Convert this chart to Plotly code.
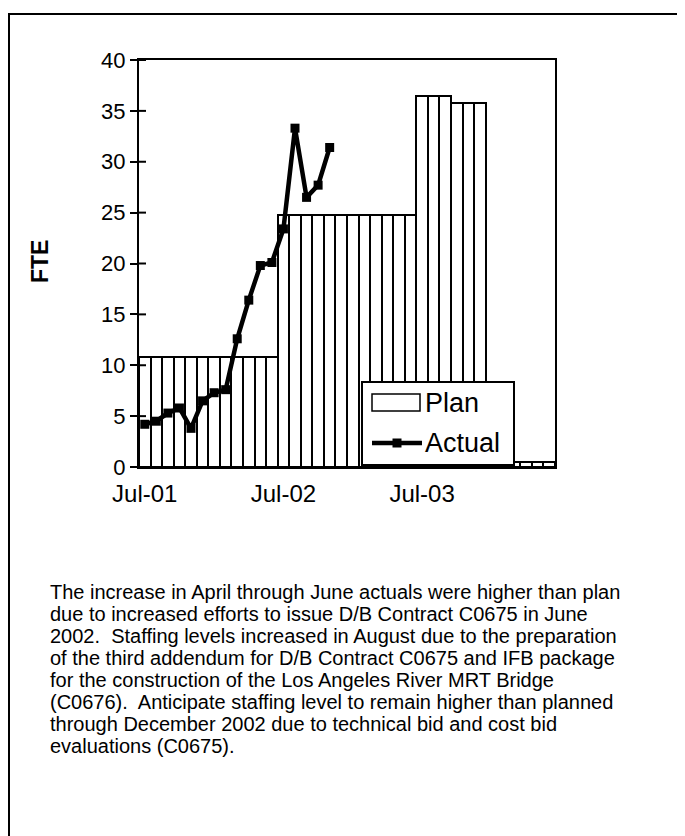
import plotly.graph_objects as go

months = ["Jul-01","Aug-01","Sep-01","Oct-01","Nov-01","Dec-01","Jan-02","Feb-02","Mar-02","Apr-02","May-02","Jun-02",
          "Jul-02","Aug-02","Sep-02","Oct-02","Nov-02","Dec-02","Jan-03","Feb-03","Mar-03","Apr-03","May-03","Jun-03",
          "Jul-03","Aug-03","Sep-03","Oct-03","Nov-03","Dec-03","Jan-04","Feb-04","Mar-04","Apr-04","May-04","Jun-04"]
plan = [10.8]*12 + [24.8]*12 + [36.5]*3 + [35.8]*3 + [0.5]*6
actual_months = months[:17]
actual = [4.2, 4.5, 5.3, 5.8, 3.8, 6.5, 7.3, 7.6, 12.6, 16.4, 19.8, 20.1, 23.4, 33.3, 26.5, 27.7, 31.4]
y_ticks = [0, 5, 10, 15, 20, 25, 30, 35, 40]
x_ticks = ["Jul-01", "Jul-02", "Jul-03"]
note_lines = [
    "The increase in April through June actuals were higher than plan",
    "due to increased efforts to issue D/B Contract C0675 in June",
    "2002.  Staffing levels increased in August due to the preparation",
    "of the third addendum for D/B Contract C0675 and IFB package",
    "for the construction of the Los Angeles River MRT Bridge",
    "(C0676).  Anticipate staffing level to remain higher than planned",
    "through December 2002 due to technical bid and cost bid",
    "evaluations (C0675).",
]

# page is drawn with an 8px body margin, so work in screen pixels
OFF = 8
W, H = 685 - OFF, 836 - OFF
SL, SR, ST, SB = 139, 555, 60, 467          # plot area in screen pixels
L, R, T, B = SL - OFF, SR - OFF, ST - OFF, SB - OFF
pw, ph = R - L, B - T
def px(sx): return (sx - OFF - L) / pw
def py(sy): return (B - (sy - OFF)) / ph

FONT = "Liberation Sans, Arial, sans-serif"

fig = go.Figure()
fig.add_trace(go.Bar(x=months, y=plan, name="Plan", showlegend=False,
                     marker=dict(color="white", line=dict(color="black", width=2))))
fig.add_trace(go.Scatter(x=actual_months, y=actual, name="Actual", mode="lines+markers", showlegend=False,
                         line=dict(color="black", width=4.5),
                         marker=dict(symbol="square", size=9, color="black")))

blk = dict(color="black", width=2)
shapes = []
# inner half of crossing y ticks
for v in y_ticks:
    shapes.append(dict(type="line", xref="paper", yref="y", x0=0, x1=7/pw, y0=v, y1=v, line=blk))
# outer frame of the page
shapes.append(dict(type="line", xref="paper", yref="paper", x0=px(8), x1=px(690), y0=py(14), y1=py(14), line=blk))
shapes.append(dict(type="line", xref="paper", yref="paper", x0=px(9), x1=px(9), y0=py(14), y1=py(840), line=blk))
# legend (drawn by hand to mimic the original box)
shapes.append(dict(type="rect", xref="paper", yref="paper", x0=px(362), x1=px(514), y0=py(465), y1=py(382),
                   fillcolor="white", line=blk, layer="above"))
shapes.append(dict(type="rect", xref="paper", yref="paper", x0=px(372), x1=px(420), y0=py(411), y1=py(394),
                   fillcolor="white", line=dict(color="black", width=1.5), layer="above"))
shapes.append(dict(type="line", xref="paper", yref="paper", x0=px(372), x1=px(422), y0=py(443), y1=py(443),
                   line=dict(color="black", width=4.5), layer="above"))
shapes.append(dict(type="rect", xref="paper", yref="paper", x0=px(392.5), x1=px(401.5), y0=py(447.5), y1=py(438.5),
                   fillcolor="black", line=dict(color="black", width=0), layer="above"))

annotations = [
    dict(text="<b>FTE</b>", xref="paper", yref="paper", x=px(40), y=py(262), xanchor="center", yanchor="middle",
         textangle=-90, showarrow=False, font=dict(size=23, family=FONT)),
    dict(text="Plan", xref="paper", yref="paper", x=px(423), y=py(403), xanchor="left", yanchor="middle",
         showarrow=False, font=dict(size=27, family=FONT)),
    dict(text="Actual", xref="paper", yref="paper", x=px(423), y=py(443), xanchor="left", yanchor="middle",
         showarrow=False, font=dict(size=27, family=FONT)),
]
for i, line in enumerate(note_lines):
    annotations.append(dict(text=line, xref="paper", yref="paper", x=px(48), y=py(592 + 22 * i),
                            xanchor="left", yanchor="middle", showarrow=False,
                            font=dict(size=20, family=FONT)))

fig.update_layout(
    width=W, height=H,
    margin=dict(l=L, r=W - R, t=T, b=H - B),
    paper_bgcolor="white", plot_bgcolor="white",
    font=dict(family=FONT, color="black", size=20),
    bargap=0,
    showlegend=False,
    xaxis=dict(type="category", range=[-0.5, 35.5], tickvals=x_ticks, ticktext=x_ticks,
               ticks="", showline=True, linecolor="black", linewidth=2, mirror=True,
               showgrid=False, zeroline=False, ticklabelstandoff=4,
               tickfont=dict(size=24, family=FONT)),
    yaxis=dict(range=[0, 40], tickvals=y_ticks, ticks="outside", ticklen=7, tickwidth=2,
               tickcolor="black", showline=True, linecolor="black", linewidth=2, mirror=True,
               showgrid=False, zeroline=False, ticklabelstandoff=0,
               tickfont=dict(size=22, family=FONT)),
    shapes=shapes,
    annotations=annotations,
)

fig.write_html("out.html")
